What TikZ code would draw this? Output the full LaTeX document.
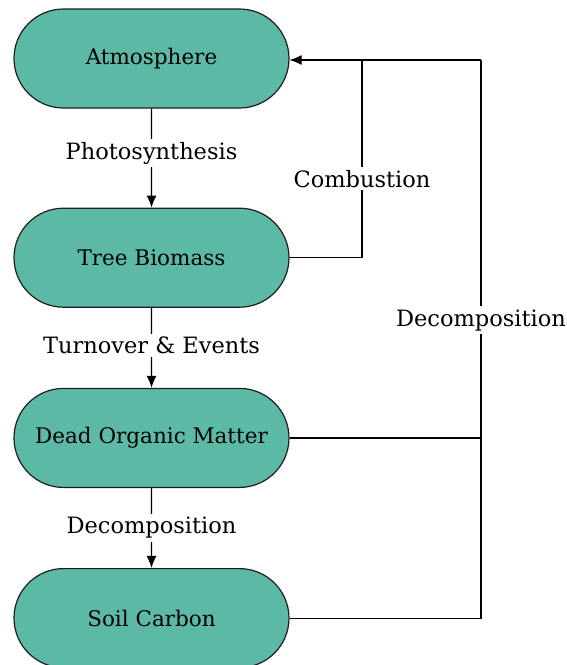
\documentclass[tikz,border=0pt]{standalone}
\usepackage{fontspec}
\setmainfont{DejaVu Serif}
\usepackage{tikz}
\usetikzlibrary{positioning, shapes.misc, arrows.meta}
\definecolor{mytealfill}{RGB}{91, 185, 166}
\definecolor{mydarkline}{RGB}{30, 30, 30}

\begin{document}
\begin{tikzpicture}[x = 1pt, y = -1pt, > = {Latex[length = 12pt, width = 10pt]}, node distance = 80pt, line width = 1.2pt,
  pool/.style={draw = mydarkline, fill = mytealfill, rounded rectangle, minimum width = 275pt, minimum height = 99pt, inner sep = 0pt, font = \fontsize{21.5}{25}\selectfont},
  flux/.style={fill = white, inner sep = 3pt, font = \fontsize{22.5}{26}\selectfont}]
  \useasboundingbox (0, 0) rectangle (566, 665);

  % pools
  \node [pool] (atmosphere) at (151.5, 58.5) {Atmosphere};
  \node [pool] [below = 99pt of atmosphere] (tree-biomass) {Tree Biomass};
  \node [pool] [below = of tree-biomass] (dead-organic) {Dead Organic Matter};
  \node [pool] [below = of dead-organic] (soil-carbon) {Soil Carbon};

  \coordinate (combustion-top) at (362, 60);
  \coordinate (decomposition-top) at (481, 60);

  % downward fluxes
  \path[->] (atmosphere) edge node [flux, pos = 0.45] (photosynthesis) {Photosynthesis} (tree-biomass);
  \path[->] (tree-biomass) edge node [flux, pos = 0.47] (turnover) {Turnover \& Events} (dead-organic);
  \path[->] (dead-organic) edge node [flux] (decomposition-soil) {Decomposition} (soil-carbon);

  % return fluxes
  \draw[->] (decomposition-top) -- (atmosphere.east |- decomposition-top);
  \draw (tree-biomass.east) -| node [flux, pos = 0.7] (combustion) {Combustion} (combustion-top);
  \draw (dead-organic.east) -- (dead-organic.east -| decomposition-top);
  \draw (soil-carbon.east) -| node [flux, pos = 0.767] (decomposition-air) {Decomposition} (decomposition-top);

\end{tikzpicture}
\end{document}
